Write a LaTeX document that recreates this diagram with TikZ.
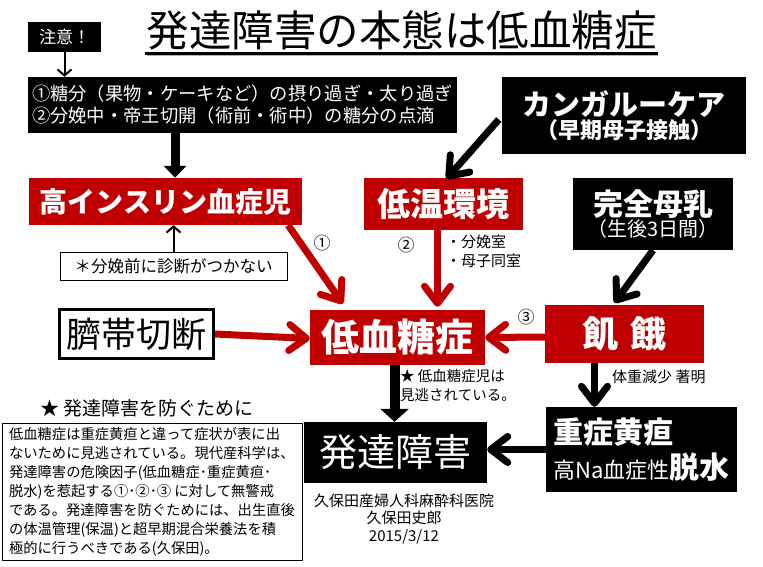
\documentclass[tikz,border=0pt]{standalone}
\usepackage{fontspec}
\setmainfont{Noto Sans CJK JP}
\usetikzlibrary{arrows.meta,calc}
\definecolor{myred}{HTML}{C00000}
\newcommand{\fs}[1]{\fontsize{#1}{#1}\selectfont}
\begin{document}
\begin{tikzpicture}[x=1pt,y=-1pt,
  blackbox/.style={fill=black,text=white,inner sep=0pt,align=center},
  redbox/.style={fill=myred,text=white,inner sep=0pt,align=center,font=\bfseries},
  redarrow/.style={draw=myred,line width=7pt,-{Straight Barb[round,length=17pt,width=26pt]}},
  blkarrow/.style={draw=black,line width=7pt,-{Straight Barb[round,length=17pt,width=26pt]}},
  triarrow/.style={draw=black,line width=10pt,-{Triangle[length=13pt,width=28pt]}},
  thinarrow/.style={draw=black,line width=2pt,-{Straight Barb[length=6pt,width=14pt]}},
  lbl/.style={inner sep=0pt,align=left}]
\useasboundingbox[fill=white] (0,0) rectangle (763,567);

% title
\node[inner sep=0pt] (title) at (401.5,30) {\fs{42.5}発達障害の本態は低血糖症};
\draw[line width=2.5pt] (145,53.5) -- (658,53.5);
\draw[line width=1pt,gray!60] (147,56) -- (658,56);

% boxes
\node[blackbox,minimum width=73,minimum height=30] (chui) at (64.5,37) {\fs{17}注意！};
\node[blackbox,minimum width=429,minimum height=56,align=left,font={\fontsize{18.3}{22}\selectfont}] (topbox) at (242.5,105)
  {①糖分（果物・ケーキなど）の摂り過ぎ・太り過ぎ\\ ②分娩中・帝王切開（術前・術中）の糖分の点滴};
\node[redbox,minimum width=273,minimum height=47] (hyper) at (165.5,201.5) {\fs{28}高インスリン血症児};
\node[draw,line width=1pt,inner sep=0pt,minimum width=227,minimum height=28] (note) at (173.5,266) {\fs{16.5}＊分娩前に診断がつかない};
\node[redbox,minimum width=159,minimum height=52] (teion) at (443.5,204) {\fs{33}低温環境};
\node[blackbox,minimum width=244,minimum height=77,font=\bfseries] (kangaroo) at (624,115.5)
  {\fs{29}カンガルーケア\\[1pt] \fs{22}（早期母子接触）};
\node[blackbox,minimum width=160,minimum height=72,font=\bfseries] (bonyu) at (653,214)
  {\fs{30}完全母乳\\[0pt] \fs{20}\mdseries （生後3日間）};
\node[redbox,minimum width=175,minimum height=55] (teiketto) at (397.5,337.5) {\fs{38}低血糖症};
\node[draw,line width=3pt,inner sep=0pt,minimum width=154,minimum height=49] (saitai) at (136.5,334) {\fs{35}臍帯切断};
\node[redbox,minimum width=159,minimum height=58] (kiga) at (624.5,334) {\fs{36}飢\hspace{12pt}餓};
\node[blackbox,minimum width=183,minimum height=61] (hattatsu) at (395.5,452.5) {\fs{38}発達障害};
\node[blackbox,minimum width=191,minimum height=85,align=left] (jusho) at (641.5,449.5)
  {\fs{30}\bfseries 重症黄疸\\[6pt] \fs{22}高Na血症性\fs{30}\bfseries 脱水};

% paragraph
\node[draw,line width=1pt,inner sep=0pt,minimum width=300,minimum height=137,align=left,
      font={\fontsize{14.3}{19}\selectfont}] (para) at (152,491.5)
  {低血糖症は重症黄疸と違って症状が表に出\\
   ないために見逃されている。現代産科学は、\\
   発達障害の危険因子(低血糖症･重症黄疸･\\
   脱水)を惹起する①･②･③ に対して無警戒\\
   である。発達障害を防ぐためには、出生直後\\
   の体温管理(保温)と超早期混合栄養法を積\\
   極的に行うべきである(久保田)。};
\node[lbl,anchor=west] (star) at (40,408) {\fs{19}★ 発達障害を防ぐために};

% labels
\node[lbl] (n1) at (322,243) {\fs{17}①};
\node[lbl] (n2) at (406,245) {\fs{17}②};
\node[lbl] (n3) at (526,317) {\fs{17}③};
\node[lbl,anchor=north west,font={\fontsize{15}{19}\selectfont}] (room) at (446,235) {・分娩室\\ ・母子同室};
\node[lbl,anchor=north west,font={\fontsize{14.5}{19}\selectfont}] (miss) at (400,369) {★ 低血糖症児は\\ 見逃されている。};
\node[lbl,anchor=west] (weight) at (612,377) {\fs{15}体重減少 著明};
\node[inner sep=0pt,align=center,font={\fontsize{15}{17.5}\selectfont}] (credit) at (404,519) {久保田産婦人科麻酔科医院\\ 久保田史郎\\ 2015/3/12};

% arrows
\draw[thinarrow] (chui.south) -- (chui.south |- topbox.north);
\draw[draw=black,line width=9pt,-{Triangle[length=12pt,width=22pt]}] ([xshift=9.5pt]hyper.north |- topbox.south) -- ([xshift=9.5pt]hyper.north);
\draw[thinarrow] (note.north) -- (note.north |- hyper.south);
\draw[redarrow] ([xshift=-14pt]hyper.south east) -- ([xshift=33pt,yshift=6pt]teiketto.north west);
\draw[blkarrow] ([xshift=-3pt,yshift=-4pt]kangaroo.west) -- ([xshift=3pt,yshift=-1pt]teion.north);
\draw[redarrow] ([xshift=-6pt]teion.south) -- ([xshift=-6pt,yshift=3pt]teion.south |- teiketto.north);
\draw[blkarrow] (bonyu.south) -- ([xshift=-10pt,yshift=2pt]kiga.north);
\draw[redarrow] (saitai.east) -- ([yshift=-1pt]teiketto.west);
\draw[redarrow] ([yshift=-3pt]kiga.west) -- ([yshift=0pt]teiketto.east);
\draw[triarrow] ([xshift=-3pt]teiketto.south) -- ([xshift=-3pt]teiketto.south |- hattatsu.north);
\draw[blkarrow] ([xshift=-30pt]kiga.south) -- ([xshift=-30pt]kiga.south |- jusho.north);
\draw[blkarrow] (jusho.west) -- (hattatsu.east |- jusho.west);
\end{tikzpicture}
\end{document}
